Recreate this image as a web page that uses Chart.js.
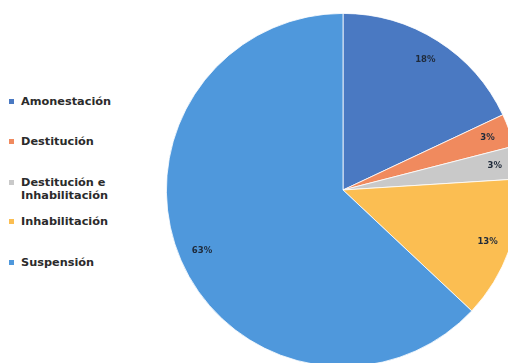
<!DOCTYPE html>
<html>
<head>
<meta charset="utf-8">
<script src="https://cdn.jsdelivr.net/npm/chart.js@4/dist/chart.umd.min.js"></script>
<style>
  html, body { margin: 0; padding: 0; background: #fff; overflow: hidden; width: 508px; height: 363px; }
  #wrap { position: absolute; left: 166px; top: 13px; width: 354px; height: 354px; }
  #legend { position: absolute; left: 9px; top: 0; font-family: "DejaVu Sans", sans-serif; font-weight: bold; font-size: 11.3px; color: #2b2b2b; }
  .item { position: absolute; left: 0; white-space: nowrap; line-height: 13px; }
  .item span.box { position: absolute; left: 0; top: 4px; width: 5px; height: 5px; }
  .item span.txt { position: absolute; left: 12px; top: 0; }
</style>
</head>
<body>
<div id="legend"></div>
<div id="wrap"><canvas id="pie" width="354" height="354"></canvas></div>
<script>
// categorias y porcentajes
const labels = ["Amonestación", "Destitución", "Destitución e\nInhabilitación", "Inhabilitación", "Suspensión"];
const values = [18, 3, 3, 13, 63];
const colors = ["#4a79c2", "#f08a5e", "#c9c9c9", "#fbbe52", "#4f98dc"];
const legendTops = [95, 135, 176, 215, 256];

// leyenda a la izquierda
const legend = document.getElementById("legend");
labels.forEach((l, i) => {
  const div = document.createElement("div");
  div.className = "item";
  div.style.top = legendTops[i] + "px";
  const lines = l.split("\n");
  div.innerHTML = '<span class="box" style="background:' + colors[i] + '"></span>' +
    '<span class="txt">' + lines.join("<br>") + "</span>";
  legend.appendChild(div);
});

// etiquetas de porcentaje dentro de cada porcion
const pctLabels = {
  id: "pctLabels",
  afterDatasetsDraw(chart) {
    const ctx = chart.ctx;
    const meta = chart.getDatasetMeta(0);
    ctx.save();
    ctx.font = "bold 8.5px 'DejaVu Sans', sans-serif";
    ctx.fillStyle = "#1f2a3a";
    ctx.textAlign = "center";
    ctx.textBaseline = "middle";
    meta.data.forEach((arc, i) => {
      const mid = (arc.startAngle + arc.endAngle) / 2;
      const r = arc.outerRadius * 0.87;
      ctx.fillText(values[i] + "%", arc.x + Math.cos(mid) * r, arc.y + Math.sin(mid) * r);
    });
    ctx.restore();
  }
};

new Chart(document.getElementById("pie"), {
  type: "pie",
  data: {
    labels: labels,
    datasets: [{
      data: values,
      backgroundColor: colors,
      borderColor: "#ffffff",
      borderWidth: 0.8
    }]
  },
  options: {
    responsive: false,
    animation: false,
    maintainAspectRatio: false,
    layout: { padding: 0 },
    plugins: {
      legend: { display: false },
      tooltip: { enabled: false }
    }
  },
  plugins: [pctLabels]
});
</script>
</body>
</html>
